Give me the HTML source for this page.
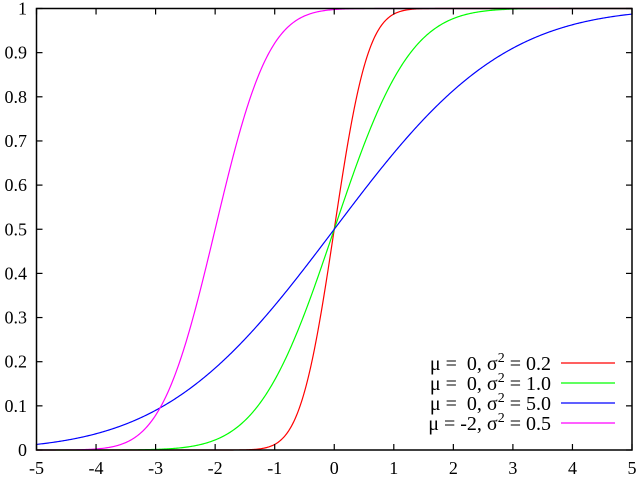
<!DOCTYPE html>
<html><head><meta charset="utf-8"><style>
html,body{margin:0;padding:0;background:#fff}
svg{display:block}
text{font-family:"Liberation Serif",serif;font-size:18px;fill:#000;white-space:pre}
</style></head><body>
<svg id="s" width="640" height="480" viewBox="0 0 640 480" xmlns="http://www.w3.org/2000/svg">
<g id="curves" fill="none" stroke-width="1.2"></g>
<rect x="36.5" y="8.5" width="595.5" height="441.5" fill="none" stroke="#000" stroke-width="1.5"/>
<g id="ticks" stroke="#000" stroke-width="1.2"></g>
<g id="labels"></g>
<g id="legend">
<text x="551" y="370" text-anchor="end" style="font-size:20px">μ =  0, σ<tspan dy="-8" style="font-size:14px">2</tspan><tspan dy="8"> = 0.2</tspan></text>
<text x="551" y="390" text-anchor="end" style="font-size:20px">μ =  0, σ<tspan dy="-8" style="font-size:14px">2</tspan><tspan dy="8"> = 1.0</tspan></text>
<text x="551" y="410" text-anchor="end" style="font-size:20px">μ =  0, σ<tspan dy="-8" style="font-size:14px">2</tspan><tspan dy="8"> = 5.0</tspan></text>
<text x="551" y="430" text-anchor="end" style="font-size:20px">μ = -2, σ<tspan dy="-8" style="font-size:14px">2</tspan><tspan dy="8"> = 0.5</tspan></text>
<line x1="561" y1="363" x2="615" y2="363" stroke="#f00" stroke-width="1.2"/>
<line x1="561" y1="383" x2="615" y2="383" stroke="#0f0" stroke-width="1.2"/>
<line x1="561" y1="403" x2="615" y2="403" stroke="#00f" stroke-width="1.2"/>
<line x1="561" y1="423" x2="615" y2="423" stroke="#f0f" stroke-width="1.2"/>
</g>
</svg>
<script>
var NS="http://www.w3.org/2000/svg";
function X(v){return 36.5+(v+5)*59.55;}
function Y(v){return 450-v*441.5;}
function erf(x){var s=x<0?-1:1;x=Math.abs(x);var t=1/(1+0.3275911*x);
var y=1-(((((1.061405429*t-1.453152027)*t)+1.421413741)*t-0.284496736)*t+0.254829592)*t*Math.exp(-x*x);return s*y;}
function el(n,a,p){var e=document.createElementNS(NS,n);for(var k in a)e.setAttribute(k,a[k]);p.appendChild(e);return e;}
var c=document.getElementById("curves");
[[0,0.2,"#f00"],[0,1,"#0f0"],[0,5,"#00f"],[-2,0.5,"#f0f"]].forEach(function(s){
var d="";for(var i=0;i<=600;i++){var x=-5+i/60;var y=0.5*(1+erf((x-s[0])/Math.sqrt(2*s[1])));d+=(i?"L":"M")+X(x).toFixed(2)+" "+Y(y).toFixed(2);}
el("path",{d:d,stroke:s[2]},c);});
var t=document.getElementById("ticks"),l=document.getElementById("labels");
for(var i=-5;i<=5;i++){var x=X(i);
el("line",{x1:x,y1:450,x2:x,y2:444},t);el("line",{x1:x,y1:8.5,x2:x,y2:14.5},t);
var tx=el("text",{x:x,y:474,"text-anchor":"middle"},l);tx.textContent=i;}
var yl=["0","0.1","0.2","0.3","0.4","0.5","0.6","0.7","0.8","0.9","1"];
for(var j=0;j<=10;j++){var y=Y(j/10);
el("line",{x1:36.5,y1:y,x2:42.5,y2:y},t);el("line",{x1:632,y1:y,x2:626,y2:y},t);
var ty=el("text",{x:27,y:y+6,"text-anchor":"end"},l);ty.textContent=yl[j];}
</script>
</body></html>
